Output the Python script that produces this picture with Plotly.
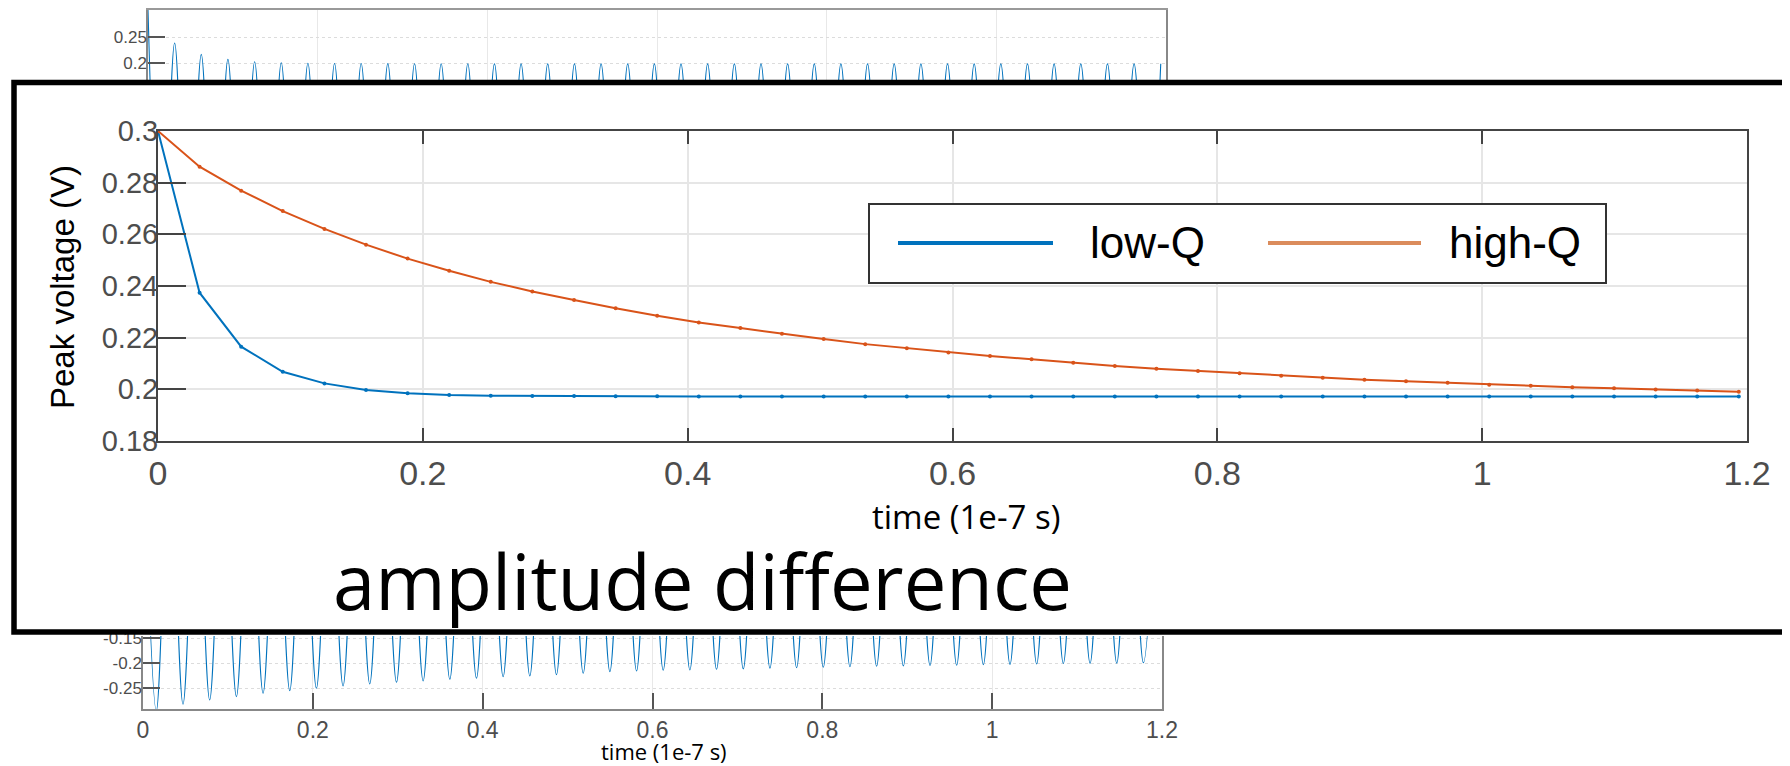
import plotly.graph_objects as go

W, H = 1790, 766
OFF = 8  # the page body adds an 8 px margin; positions below are given in screen pixels

# ---------------- data ----------------
# sample times (1e-7 s) of the peak-voltage series
time_main = [0.0000, 0.0314, 0.0628, 0.0942, 0.1257, 0.1571, 0.1885, 0.2199, 0.2513, 0.2827,
             0.3142, 0.3456, 0.3770, 0.4084, 0.4398, 0.4712, 0.5027, 0.5341, 0.5655, 0.5969,
             0.6283, 0.6597, 0.6912, 0.7226, 0.7540, 0.7854, 0.8168, 0.8482, 0.8796, 0.9111,
             0.9425, 0.9739, 1.0053, 1.0367, 1.0681, 1.0996, 1.1310, 1.1624, 1.1938]

low_q = [0.3000, 0.2374, 0.2165, 0.2068, 0.2023, 0.1997, 0.1985, 0.1978, 0.1975, 0.1974,
         0.1974, 0.1973, 0.1973, 0.1972, 0.1972, 0.1972, 0.1972, 0.1972, 0.1972, 0.1972,
         0.1972, 0.1972, 0.1972, 0.1972, 0.1972, 0.1972, 0.1972, 0.1972, 0.1972, 0.1972,
         0.1972, 0.1972, 0.1972, 0.1972, 0.1972, 0.1972, 0.1972, 0.1972, 0.1972]

high_q = [0.3000, 0.2862, 0.2769, 0.2690, 0.2621, 0.2560, 0.2506, 0.2459, 0.2416, 0.2379,
          0.2346, 0.2314, 0.2285, 0.2259, 0.2237, 0.2215, 0.2195, 0.2175, 0.2159, 0.2143,
          0.2129, 0.2116, 0.2103, 0.2090, 0.2080, 0.2071, 0.2062, 0.2053, 0.2045, 0.2037,
          0.2031, 0.2025, 0.2018, 0.2014, 0.2008, 0.2004, 0.1999, 0.1995, 0.1991]

# background waveform: maxima (visible in top strip) and minima (visible in bottom strip)
peak_times = time_main
top_peaks = [0.3020, 0.2385, 0.2167, 0.2071, 0.2025, 0.2006, 0.1997, 0.1992, 0.1990, 0.1988,
             0.1987, 0.1986, 0.1986, 0.1985, 0.1985, 0.1985, 0.1985, 0.1985, 0.1985, 0.1985,
             0.1985, 0.1985, 0.1985, 0.1985, 0.1985, 0.1985, 0.1985, 0.1985, 0.1985, 0.1985,
             0.1985, 0.1985, 0.1985, 0.1985, 0.1985, 0.1985, 0.1985, 0.1985, 0.1985]

trough_times = [0.0157, 0.0471, 0.0785, 0.1100, 0.1414, 0.1728, 0.2042, 0.2356, 0.2670, 0.2985,
                0.3299, 0.3613, 0.3927, 0.4241, 0.4555, 0.4869, 0.5184, 0.5498, 0.5812, 0.6126,
                0.6440, 0.6754, 0.7069, 0.7383, 0.7697, 0.8011, 0.8325, 0.8639, 0.8954, 0.9268,
                0.9582, 0.9896, 1.0210, 1.0524, 1.0838, 1.1153, 1.1467, 1.1781]
bottom_troughs = [-0.2960, -0.2826, -0.2740, -0.2674, -0.2606, -0.2554, -0.2506, -0.2460, -0.2420, -0.2386,
                  -0.2360, -0.2326, -0.2306, -0.2274, -0.2260, -0.2234, -0.2206, -0.2173, -0.2160, -0.2145,
                  -0.2140, -0.2126, -0.2118, -0.2102, -0.2094, -0.2086, -0.2074, -0.2064, -0.2058, -0.2048,
                  -0.2044, -0.2034, -0.2027, -0.2020, -0.2010, -0.2006, -0.2002, -0.1996]

x_tickvals = [0, 0.2, 0.4, 0.6, 0.8, 1.0, 1.2]
x_ticktext = ["0", "0.2", "0.4", "0.6", "0.8", "1", "1.2"]
y_tickvals = [0.18, 0.20, 0.22, 0.24, 0.26, 0.28, 0.30]
y_ticktext = ["0.18", "0.2", "0.22", "0.24", "0.26", "0.28", "0.3"]
top_y_tickvals = [0.2, 0.25]
top_y_ticktext = ["0.2", "0.25"]
bot_y_tickvals = [-0.25, -0.2, -0.15]
bot_y_ticktext = ["-0.25", "-0.2", "-0.15"]

series_names = ["low-Q", "high-Q"]
BLUE = "#0072BD"
ORANGE = "#D95319"
ORANGE_LEG = "#DB8C5C"


def px(x):
    return (x - OFF) / W


def py(y):
    return 1 - (y - OFF) / H


fig = go.Figure()

# background oscillation (drawn in both strips)
bg_t, bg_v = [], []
for i in range(len(peak_times)):
    bg_t.append(peak_times[i])
    bg_v.append(top_peaks[i])
    if i < len(trough_times):
        bg_t.append(trough_times[i])
        bg_v.append(bottom_troughs[i])

for xa, ya in [("x2", "y2"), ("x3", "y3")]:
    fig.add_trace(go.Scatter(x=bg_t, y=bg_v, mode="lines",
                             line=dict(color=BLUE, width=1.1, shape="spline", smoothing=1),
                             xaxis=xa, yaxis=ya, showlegend=False, hoverinfo="skip"))

# main series
fig.add_trace(go.Scatter(x=time_main, y=low_q, mode="lines+markers", name=series_names[0],
                         line=dict(color=BLUE, width=2), marker=dict(size=4, color=BLUE),
                         xaxis="x", yaxis="y", showlegend=False))
fig.add_trace(go.Scatter(x=time_main, y=high_q, mode="lines+markers", name=series_names[1],
                         line=dict(color=ORANGE, width=2), marker=dict(size=4, color=ORANGE),
                         xaxis="x", yaxis="y", showlegend=False))

TICKFONT = "Liberation Sans, Arial, Helvetica, sans-serif"
TEXTFONT = "Open Sans, Noto Sans, sans-serif"

fig.update_layout(
    width=W, height=H, autosize=False,
    margin=dict(l=0, r=0, t=0, b=0, pad=0, autoexpand=False),
    paper_bgcolor="white", plot_bgcolor="rgba(0,0,0,0)",
    showlegend=False,
    xaxis=dict(domain=[px(158), px(1747)], range=[0, 1.2], anchor="y", automargin=False,
               tickmode="array", tickvals=x_tickvals, ticktext=x_ticktext,
               ticks="inside", ticklen=13, tickwidth=2, tickcolor="#444",
               showline=True, linecolor="#444", linewidth=2, mirror="ticks",
               showgrid=True, gridcolor="#e6e6e6", gridwidth=1.5, zeroline=False,
               tickfont=dict(family=TICKFONT, size=34, color="#4d4d4d"),
               ticklabelstandoff=1),
    yaxis=dict(domain=[py(441), py(131)], range=[0.18, 0.30], anchor="x", automargin=False,
               tickmode="array", tickvals=y_tickvals, ticktext=y_ticktext,
               ticks="inside", ticklen=28, tickwidth=2, tickcolor="#444",
               showline=True, linecolor="#444", linewidth=2, mirror=True,
               showgrid=True, gridcolor="#e6e6e6", gridwidth=1.5, zeroline=False,
               tickfont=dict(family=TICKFONT, size=29, color="#4d4d4d"),
               ticklabelstandoff=-8),
    xaxis2=dict(domain=[px(148), px(1166)], range=[0, 1.2], anchor="y2", automargin=False,
                tickmode="array", tickvals=x_tickvals, showticklabels=False, ticks="",
                showline=True, linecolor="#999", linewidth=1.5, mirror=True,
                showgrid=True, gridcolor="#e8e8e8", gridwidth=1, zeroline=False),
    yaxis2=dict(domain=[py(80), py(10)], range=[0.1674, 0.302], anchor="x2", automargin=False,
                tickmode="array", tickvals=top_y_tickvals, ticktext=top_y_ticktext,
                ticks="inside", ticklen=17, tickwidth=1.5, tickcolor="#555",
                showline=True, linecolor="#888", linewidth=1.5, mirror=True,
                showgrid=True, gridcolor="#dcdcdc", gridwidth=1, griddash="dot", zeroline=False,
                tickfont=dict(family=TICKFONT, size=17, color="#4d4d4d"),
                ticklabelstandoff=-4),
    xaxis3=dict(domain=[px(143), px(1162)], range=[0, 1.2], anchor="y3", automargin=False,
                tickmode="array", tickvals=x_tickvals, ticktext=x_ticktext,
                ticks="inside", ticklen=16, tickwidth=1.5, tickcolor="#555",
                showline=True, linecolor="#888", linewidth=1.5,
                showgrid=True, gridcolor="#e8e8e8", gridwidth=1, zeroline=False,
                tickfont=dict(family=TICKFONT, size=23, color="#4d4d4d")),
    yaxis3=dict(domain=[py(709), py(636)], range=[-0.292, -0.146], anchor="x3", automargin=False,
                tickmode="array", tickvals=bot_y_tickvals, ticktext=bot_y_ticktext,
                ticks="inside", ticklen=17, tickwidth=1.5, tickcolor="#555",
                showline=True, linecolor="#888", linewidth=1.5, mirror=True,
                showgrid=True, gridcolor="#dcdcdc", gridwidth=1, griddash="dot", zeroline=False,
                tickfont=dict(family=TICKFONT, size=17, color="#4d4d4d"),
                ticklabelstandoff=-4),
)

shapes = [
    # white panel of the overlay box
    dict(type="rect", xref="paper", yref="paper", x0=px(14), x1=px(1830), y0=py(632), y1=py(82.5),
         fillcolor="white", line=dict(width=0), layer="below"),
    # black frame of the overlay box
    dict(type="rect", xref="paper", yref="paper", x0=px(14), x1=px(1830), y0=py(632), y1=py(82.5),
         fillcolor="rgba(0,0,0,0)", line=dict(color="black", width=5.5), layer="above"),
    # legend box
    dict(type="rect", xref="paper", yref="paper", x0=px(869), x1=px(1606), y0=py(283), y1=py(204),
         fillcolor="white", line=dict(color="#333", width=2), layer="above"),
    dict(type="line", xref="paper", yref="paper", x0=px(898), x1=px(1053), y0=py(243), y1=py(243),
         line=dict(color=BLUE, width=4), layer="above"),
    dict(type="line", xref="paper", yref="paper", x0=px(1268), x1=px(1421), y0=py(243), y1=py(243),
         line=dict(color=ORANGE_LEG, width=4), layer="above"),
]

annotations = [
    dict(text=series_names[0], x=px(1088), y=py(243), xref="paper", yref="paper",
         xanchor="left", yanchor="middle", showarrow=False,
         font=dict(family=TICKFONT, size=44, color="black")),
    dict(text=series_names[1], x=px(1447), y=py(243), xref="paper", yref="paper",
         xanchor="left", yanchor="middle", showarrow=False,
         font=dict(family=TICKFONT, size=44, color="black")),
    dict(text="Peak voltage (V)", x=px(62), y=py(287), xref="paper", yref="paper",
         xanchor="center", yanchor="middle", textangle=-90, showarrow=False,
         font=dict(family=TICKFONT, size=33, color="black")),
    dict(text="time (1e-7 s)", x=px(966), y=py(516), xref="paper", yref="paper",
         xanchor="center", yanchor="middle", showarrow=False,
         font=dict(family=TEXTFONT, size=33, color="black")),
    dict(text="amplitude difference", x=px(702), y=py(580), xref="paper", yref="paper",
         xanchor="center", yanchor="middle", showarrow=False,
         font=dict(family=TEXTFONT, size=76, color="black")),
    dict(text="time (1e-7 s)", x=px(664), y=py(751), xref="paper", yref="paper",
         xanchor="center", yanchor="middle", showarrow=False,
         font=dict(family=TEXTFONT, size=22, color="black")),
]

fig.update_layout(shapes=shapes, annotations=annotations)

fig.write_html("out.html")
